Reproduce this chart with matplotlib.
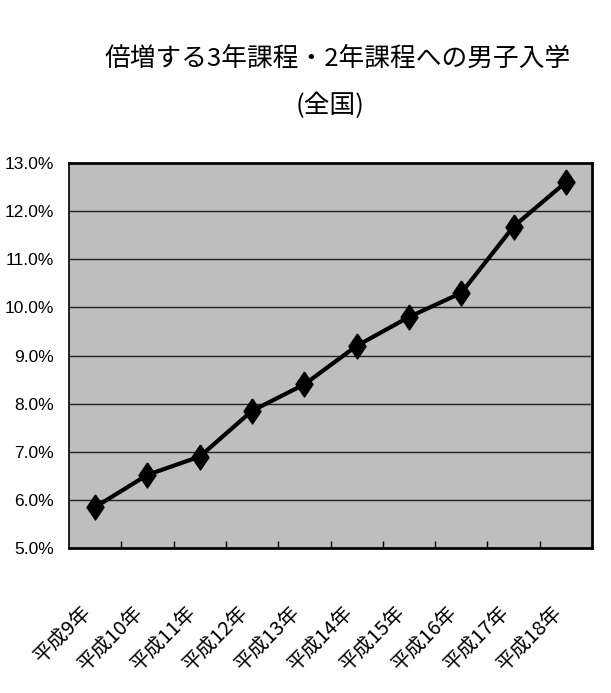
import numpy as np
import matplotlib
matplotlib.use('Agg')
import matplotlib.pyplot as plt
from matplotlib.ticker import FuncFormatter
import matplotlib.transforms as mtransforms

# данные
years = ['平成9年', '平成10年', '平成11年', '平成12年', '平成13年',
         '平成14年', '平成15年', '平成16年', '平成17年', '平成18年']
share = [5.85, 6.52, 6.9, 7.85, 8.4, 9.2, 9.8, 10.3, 11.68, 12.6]  # %
y_ticks = [5, 6, 7, 8, 9, 10, 11, 12, 13]

cjk = ['Noto Sans CJK JP', 'DejaVu Sans']
narrow = ['Liberation Sans Narrow', 'Liberation Sans', 'DejaVu Sans']

fig = plt.figure(figsize=(6.11, 6.93), dpi=100)
ax = fig.add_axes([69 / 611, 145 / 693, 523 / 611, 385 / 693])
ax.set_facecolor('#bebebe')

x = np.arange(len(years))
# вытянутый ромб, как в исходнике
diamond = [(0, 1), (0.68, 0), (0, -1), (-0.68, 0), (0, 1)]
ax.plot(x, share, color='black', lw=3, marker=diamond, markersize=18,
        markerfacecolor='black', markeredgecolor='black', zorder=3)

ax.set_xlim(-0.5, len(years) - 0.5)
ax.set_ylim(5, 13)
ax.set_yticks(y_ticks)
ax.yaxis.set_major_formatter(FuncFormatter(lambda v, p: f'{v:.1f}%'))
ax.grid(axis='y', color='#222222', lw=1)
ax.set_axisbelow(True)
ax.tick_params(axis='y', length=0, pad=11, labelsize=12.5)
for lab in ax.get_yticklabels():
    lab.set_family(narrow)
    lab.set_stretch('condensed')

# категории: подписи под углом, засечки между категориями
ax.set_xticks(x)
ax.set_xticklabels(years, rotation=45, ha='right', va='center',
                   rotation_mode='anchor', family=cjk, fontsize=14.5)
ax.set_xticks(x[:-1] + 0.5, minor=True)
ax.tick_params(axis='x', which='major', length=0, pad=44)
ax.tick_params(axis='x', which='minor', direction='in', length=5,
               width=1, color='black')
shift = mtransforms.ScaledTranslation(-7 / 100, 0, fig.dpi_scale_trans)
for lab in ax.get_xticklabels():
    lab.set_transform(lab.get_transform() + shift)

for side in ['top', 'bottom', 'right']:
    ax.spines[side].set_linewidth(2)
ax.spines['left'].set_linewidth(1.2)

fig.text(338 / 611, 1 - 59 / 693, '倍増する3年課程・2年課程への男子入学',
         ha='center', va='center', family=cjk, fontsize=18.5)
fig.text(330 / 611, 1 - 106 / 693, '(全国)',
         ha='center', va='center', family=cjk, fontsize=18.5)

fig.savefig('out.png', dpi=100, facecolor='white')
